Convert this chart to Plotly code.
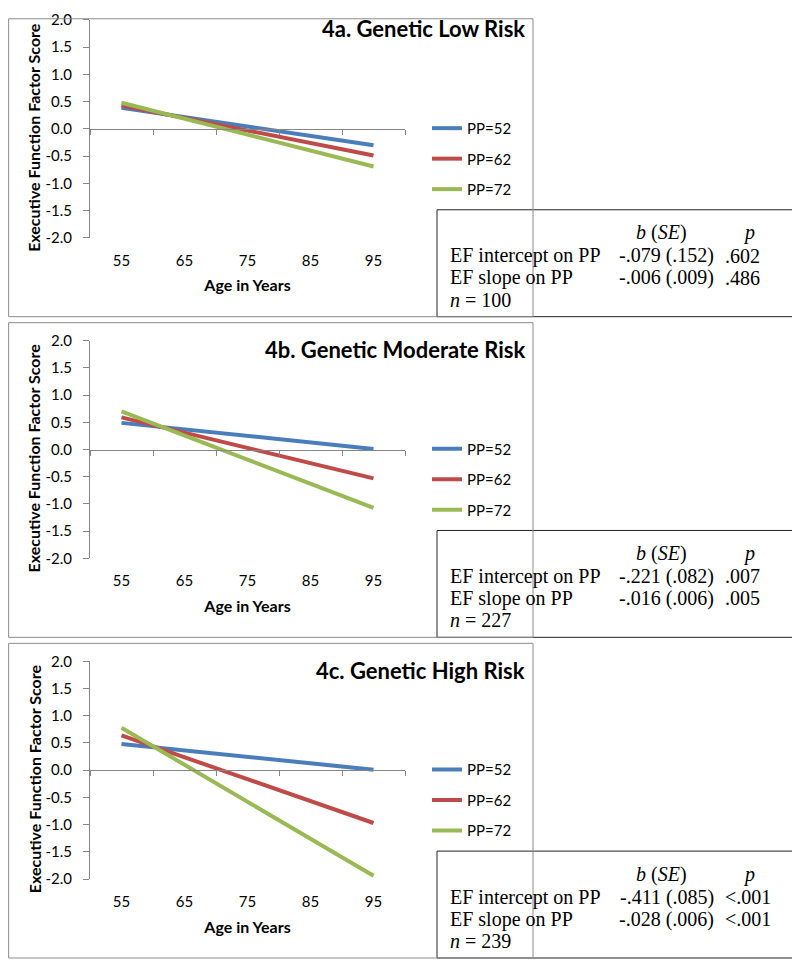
import plotly.graph_objects as go

# categories on the x axis and the two ages where the fitted lines are drawn
ages = ["55", "65", "75", "85", "95"]
line_ages = ["55", "95"]
pp_labels = ["PP=52", "PP=62", "PP=72"]
pp_colors = ["#4A7EBB", "#BE4B48", "#98B954"]
panel_titles = ["4a. Genetic Low Risk", "4b. Genetic Moderate Risk", "4c. Genetic High Risk"]

# EF factor score at age 55 and 95 for each PP level
low_risk = [[0.39, -0.30], [0.43, -0.49], [0.48, -0.69]]
moderate_risk = [[0.49, 0.01], [0.59, -0.53], [0.70, -1.07]]
high_risk = [[0.48, 0.01], [0.64, -0.97], [0.78, -1.94]]
panels = [low_risk, moderate_risk, high_risk]

y_ticks = [-2.0, -1.5, -1.0, -0.5, 0.0, 0.5, 1.0, 1.5, 2.0]

# regression tables
intercept_b = ["-.079", "-.221", "-.411"]
intercept_se = [".152", ".082", ".085"]
intercept_p = [".602", ".007", "&lt;.001"]
slope_b = ["-.006", "-.016", "-.028"]
slope_se = [".009", ".006", ".006"]
slope_p = [".486", ".005", "&lt;.001"]
n_obs = [100, 227, 239]

W, H = 800, 960
# the page puts the figure at (8, 17) and it ends up 943px tall on screen
OFF_X, OFF_Y, SHOWN_H = 8, 17, 943
panel_tops = [0, 321, 642]
plot_left, plot_right = 90, 405


def fx(x):
    return (x - OFF_X) / W


def fy(y):
    return 1 - (y - OFF_Y) / SHOWN_H


def clamp(v):
    return min(max(v, 0.0008), 0.9992)


sans = "Lato, 'Open Sans', sans-serif"
serif = "'Liberation Serif', 'Times New Roman', serif"
axis_gray = "#868686"

fig = go.Figure()
layout = dict(
    width=W, height=H,
    margin=dict(l=0, r=0, t=0, b=0),
    paper_bgcolor="white", plot_bgcolor="rgba(0,0,0,0)",
    font=dict(family=sans, size=15, color="black"),
    shapes=[], annotations=[],
)

for i, (data, top) in enumerate(zip(panels, panel_tops)):
    n = i + 1
    sfx = "" if n == 1 else str(n)
    zx = "x" + str(n + 3)  # overlay axis that draws the zero line with boundary ticks
    legend_name = "legend" + sfx

    for j, vals in enumerate(data):
        fig.add_trace(go.Scatter(
            x=line_ages, y=vals, mode="lines", name=pp_labels[j],
            line=dict(color=pp_colors[j], width=4),
            xaxis="x" + sfx, yaxis="y" + sfx,
            legend=legend_name, legendgroup=f"g{n}{j}",
        ))
    fig.add_trace(go.Scatter(
        x=ages[:1], y=[0], mode="markers", marker=dict(opacity=0),
        showlegend=False, hoverinfo="skip", xaxis=zx, yaxis="y" + sfx,
    ))

    y0, y1 = fy(top + 237), fy(top + 19)
    layout["xaxis" + sfx] = dict(
        domain=[fx(plot_left), fx(plot_right)], anchor="y" + sfx,
        type="category", categoryarray=ages, range=[-0.5, 4.5],
        showline=False, showgrid=False, zeroline=False, ticks="",
        ticklabelstandoff=12, tickfont=dict(size=15),
        title=dict(text="Age in Years", font=dict(size=16, weight="bold"), standoff=12),
    )
    layout["xaxis" + str(n + 3)] = dict(
        overlaying="x" + sfx, anchor="free", position=(y0 + y1) / 2,
        type="category", categoryarray=ages, range=[-0.5, 4.5],
        showline=True, linecolor=axis_gray, linewidth=1,
        ticks="outside", tickson="boundaries", ticklen=5, tickcolor=axis_gray,
        showticklabels=False, showgrid=False, zeroline=False,
    )
    layout["yaxis" + sfx] = dict(
        domain=[y0, y1], anchor="x" + sfx, range=[-2, 2],
        tickvals=y_ticks, ticktext=[f"{v:.1f}" for v in y_ticks],
        showline=True, linecolor=axis_gray, linewidth=1,
        ticks="outside", ticklen=6, tickcolor=axis_gray, ticklabelstandoff=8,
        showgrid=False, zeroline=False, tickfont=dict(size=15),
    )
    layout[legend_name] = dict(
        x=fx(427), y=fy(top + 111), xanchor="left", yanchor="top",
        bgcolor="rgba(0,0,0,0)", font=dict(size=15),
        traceorder="grouped", tracegroupgap=8,
    )

    # y axis title, panel title
    layout["annotations"].append(dict(
        text="<b>Executive Function Factor Score</b>", textangle=-90,
        xref="paper", yref="paper", x=fx(34), y=fy(top + 137),
        xanchor="center", yanchor="middle", showarrow=False, font=dict(size=16),
    ))
    layout["annotations"].append(dict(
        text=panel_titles[i], xref="paper", yref="paper",
        x=fx(527), y=fy(top + 28), xanchor="right", yanchor="middle",
        showarrow=False, font=dict(size=22, weight="bold"),
    ))

    # stats table box, then the panel frame over it
    layout["shapes"].append(dict(
        type="rect", xref="paper", yref="paper",
        x0=fx(437), x1=fx(797), y0=fy(top + 316), y1=fy(top + 209),
        line=dict(color="#222222", width=1), fillcolor="white", layer="above",
    ))
    layout["shapes"].append(dict(
        type="rect", xref="paper", yref="paper",
        x0=clamp(fx(2)), x1=fx(533), y0=clamp(fy(top + 316)), y1=clamp(fy(top + 1)),
        line=dict(color="#8c8c8c", width=1), fillcolor="rgba(0,0,0,0)", layer="above",
    ))

    rows = [
        (None, "<i>b</i> (<i>SE</i>)", "<i>p</i>"),
        ("EF intercept on PP", f"{intercept_b[i]} ({intercept_se[i]})", intercept_p[i]),
        ("EF slope on PP", f"{slope_b[i]} ({slope_se[i]})", slope_p[i]),
        (f"<i>n</i> = {n_obs[i]}", None, None),
    ]
    row_y = [23, 46, 68, 90]
    tf = dict(family=serif, size=20, color="black")
    for r, (label, est, p) in enumerate(rows):
        ypos = fy(top + 209 + row_y[r])
        if label:
            layout["annotations"].append(dict(
                text=label, xref="paper", yref="paper", x=fx(448), y=ypos,
                xanchor="left", yanchor="middle", showarrow=False, font=tf))
        if r == 0:
            layout["annotations"].append(dict(
                text=est, xref="paper", yref="paper", x=fx(661), y=ypos,
                xanchor="center", yanchor="middle", showarrow=False, font=tf))
            layout["annotations"].append(dict(
                text=p, xref="paper", yref="paper", x=fx(749), y=ypos,
                xanchor="center", yanchor="middle", showarrow=False, font=tf))
        elif est:
            layout["annotations"].append(dict(
                text=est, xref="paper", yref="paper", x=fx(716), y=ypos,
                xanchor="right", yanchor="middle", showarrow=False, font=tf))
            layout["annotations"].append(dict(
                text=p, xref="paper", yref="paper", x=fx(723), y=ypos,
                xanchor="left", yanchor="middle", showarrow=False, font=tf))

fig.update_layout(**layout)
fig.write_html("out.html")
